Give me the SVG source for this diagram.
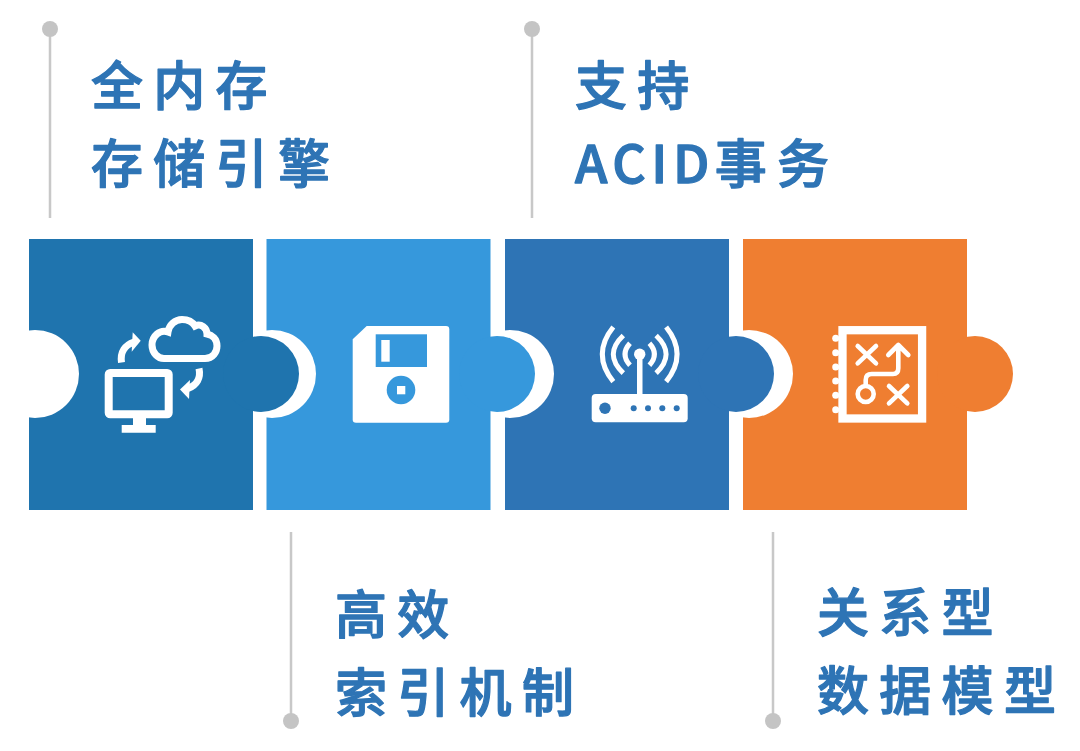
<svg xmlns="http://www.w3.org/2000/svg" width="1080" height="751" viewBox="0 0 1080 751">
<style>
.t{font-family:"Noto Sans CJK SC","Noto Sans",sans-serif;font-size:52px;font-weight:500;fill:#2E74B5;stroke:#2E74B5;stroke-width:1.300px;stroke-linejoin:round;letter-spacing:10.300px}
.a{letter-spacing:5.500px}
.l{stroke:#C8C8C8;stroke-width:2.500;fill:none}
.d{fill:#C4C4C4}
.w{fill:#fff}
.s{fill:none;stroke:#fff}
</style>
<rect width="1080" height="751" fill="#fff"/>
<g id="connectors">
<path class="l" d="M50 29V218M532 29V218M291 532V721M773 532V721"/>
<circle class="d" cx="50" cy="29" r="8"/>
<circle class="d" cx="532" cy="29" r="8"/>
<circle class="d" cx="291" cy="721" r="8"/>
<circle class="d" cx="773" cy="721" r="8"/>
</g>
<g id="node-4">
<rect x="743" y="239" width="224" height="271" fill="#EF7E31"/>
<circle class="w" cx="749" cy="374" r="44"/>
<circle cx="975" cy="374" r="38" fill="#EF7E31"/>
<g class="s" stroke-width="4.600" stroke-linecap="round" stroke-linejoin="round">
<rect x="842.500" y="330.200" width="79.600" height="88.300" stroke-width="8.300" stroke-linejoin="miter"/>
<path d="M857.700 346L876 363.300M876 346L857.700 363.300M889 386L907.300 403.300M907.300 386L889 403.300"/>
<circle cx="865.700" cy="394" r="8"/>
<path d="M865.700 385V380Q865.700 374 871.700 374H893Q898.300 374 898.300 368.300V346M888.300 355L898.300 345L908.300 355"/>
</g>
<g class="w">
<circle cx="835.700" cy="338.300" r="3.500"/><circle cx="835.700" cy="352.700" r="3.500"/><circle cx="835.700" cy="367" r="3.500"/><circle cx="835.700" cy="381" r="3.500"/><circle cx="835.700" cy="395.300" r="3.500"/><circle cx="835.700" cy="409.700" r="3.500"/>
</g>
</g>
<g id="node-3">
<rect x="505" y="239" width="224" height="271" fill="#2E74B5"/>
<circle class="w" cx="510" cy="374" r="44"/>
<circle cx="736" cy="374" r="38" fill="#2E74B5"/>
<rect class="w" x="591.700" y="394" width="96" height="28.300" rx="4"/>
<g fill="#2E74B5"><circle cx="605" cy="408.300" r="5.700"/><circle cx="633.700" cy="408.300" r="3"/><circle cx="648" cy="408.300" r="3"/><circle cx="662.300" cy="408.300" r="3"/><circle cx="676.700" cy="408.300" r="3"/></g>
<rect class="w" x="637" y="354" width="5.500" height="41"/>
<circle class="w" cx="639.700" cy="354.300" r="5.700"/>
<path class="s" stroke-width="5" d="M613.300 327Q591.300 354.300 613.300 381.600M623.300 335.500Q603.300 354.300 623.300 373.100M630 343.300Q620 354.300 630 365.300M666.100 327Q688.100 354.300 666.100 381.600M656.100 335.500Q676.100 354.300 656.100 373.100M649.400 343.300Q659.400 354.300 649.400 365.300"/>
</g>
<g id="node-2">
<rect x="266.500" y="239" width="224" height="271" fill="#3698DC"/>
<circle class="w" cx="272" cy="374" r="44"/>
<circle cx="497" cy="374" r="38" fill="#3698DC"/>
<path class="w" d="M366.700 326H446Q449.300 326 449.300 329.300V419.400Q449.300 422.700 446 422.700H356Q352.700 422.700 352.700 419.400V339.300Z"/>
<rect x="375.700" y="334.300" width="51.300" height="32.700" fill="#3698DC"/>
<rect class="w" x="381.300" y="340" width="8.400" height="21.700"/>
<circle cx="401" cy="390" r="14.300" fill="#3698DC"/>
<rect class="w" x="397" y="386" width="8.300" height="8.300"/>
</g>
<g id="node-1">
<rect x="29" y="239" width="224" height="271" fill="#1F74AE"/>
<circle class="w" cx="35" cy="374" r="44"/>
<circle cx="261" cy="374" r="38" fill="#1F74AE"/>
<rect class="s" x="108.700" y="373" width="60" height="41.300" rx="1.500" stroke-width="8"/>
<path class="w" d="M133 418H146V425H155.700V432.700H121.700V425H133Z"/>
<path class="s" stroke-width="7" d="M164 358.500H205C213 358.500 217 352 217 346C217 339 212 335 207 334C207 328 201 323 195 326C192 321 187 319.500 182 319.500C175 319.500 169 325 168 332C160 329 152 336 152 345C152 353 158 358.500 164 358.500Z"/>
<path class="s" stroke-width="7" d="M121.500 362.500C120 352 125 345 134 342"/>
<path class="w" d="M132.700 332.300L140.700 340.700L131.700 351.700Z"/>
<path class="s" stroke-width="7" d="M199 368.500C201 378 197 385 188 388.500"/>
<path class="w" d="M180 389.500L190 380L189 399Z"/>
</g>
<g id="labels">
<text class="t" x="91" y="105">全内存</text>
<text class="t" x="91" y="183">存储引擎</text>
<text class="t" x="575" y="105">支持</text>
<text class="t" x="575" y="183"><tspan class="a">ACID</tspan>事务</text>
<text class="t" x="335" y="634">高效</text>
<text class="t" x="335" y="712">索引机制</text>
<text class="t" x="817" y="632">关系型</text>
<text class="t" x="817" y="710">数据模型</text>
</g>
</svg>
